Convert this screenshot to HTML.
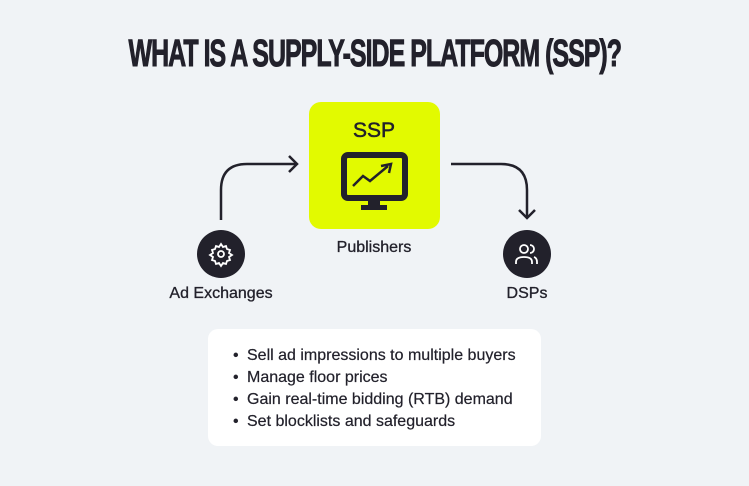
<!DOCTYPE html>
<html><head><style>
body{margin:0;width:749px;height:486px;background:#f0f3f6;font-family:"Liberation Sans",sans-serif;position:relative;overflow:hidden;color:#22212b}
.t{position:absolute;left:0;top:33px;width:749px;text-align:center}
.t span{display:inline-block;font-weight:bold;font-size:38px;letter-spacing:-1.5px;transform:scaleX(0.657);white-space:nowrap;-webkit-text-stroke:1px #22212b}
.box{position:absolute;left:309px;top:102px;width:131px;height:127px;background:#e2fa00;border-radius:12px}
.lbl{position:absolute;font-size:16px;text-align:center;width:200px;-webkit-text-stroke:0.3px #22212b}
.card{position:absolute;left:208px;top:329px;width:333px;height:117px;background:#fff;border-radius:10px}
ul{margin:0;padding:0;list-style:none;position:absolute;left:233px;top:345px;font-size:16px;line-height:22px;-webkit-text-stroke:0.2px #22212b}
li:before{content:"•";display:inline-block;width:14px}
</style></head><body>
<div class="t"><span>WHAT IS A SUPPLY-SIDE PLATFORM (SSP)?</span></div>
<div class="box"></div>
<svg width="749" height="486" style="position:absolute;left:0;top:0">
<text x="374" y="137" text-anchor="middle" font-size="21" fill="#22212b" stroke="#22212b" stroke-width="0.5" font-family="Liberation Sans">SSP</text>
<rect x="344" y="155" width="61" height="43" rx="4" fill="none" stroke="#22212b" stroke-width="6"/>
<rect x="368" y="198" width="12" height="8" fill="#22212b"/>
<rect x="361" y="205" width="26" height="5" fill="#22212b"/>
<polyline points="353,186 363,176 370,181 388,166" fill="none" stroke="#22212b" stroke-width="2.5"/>
<polyline points="381,166 391,164 389,173" fill="none" stroke="#22212b" stroke-width="2.5"/>
<path d="M221,220 V190 Q221,164 247,164 H297" fill="none" stroke="#22212b" stroke-width="2.5"/>
<polyline points="289,156 297,164 289,172" fill="none" stroke="#22212b" stroke-width="2.5"/>
<path d="M451,164 H501 Q527,164 527,190 V218" fill="none" stroke="#22212b" stroke-width="2.5"/>
<polyline points="519,210 527,218 535,210" fill="none" stroke="#22212b" stroke-width="2.5"/>
<circle cx="221" cy="254" r="24" fill="#22212b"/>
<circle cx="527" cy="254" r="24" fill="#22212b"/>
<g fill="none" stroke="#fff" stroke-width="1.8">
<circle cx="221" cy="254" r="3"/>
<path d="M221,244 l2,3 3,-1 1,3 3,1 -1,3 3,2 -3,2 1,3 -3,1 -1,3 -3,-1 -2,3 -2,-3 -3,1 -1,-3 -3,-1 1,-3 -3,-2 3,-2 -1,-3 3,-1 1,-3 3,1z"/>
<circle cx="524" cy="249" r="4"/>
<path d="M516,264 v-2 q0,-5 8,-5 q8,0 8,5 v2"/>
<path d="M530,245 a4,4 0 0 1 0,8 M534,257 q3,1 3,5 v2"/>
</g>
</svg>
<div class="lbl" style="left:274px;top:239px">Publishers</div>
<div class="lbl" style="left:121px;top:285px">Ad Exchanges</div>
<div class="lbl" style="left:427px;top:285px">DSPs</div>
<div class="card"></div>
<ul>
<li>Sell ad impressions to multiple buyers</li>
<li>Manage floor prices</li>
<li>Gain real-time bidding (RTB) demand</li>
<li>Set blocklists and safeguards</li>
</ul>
</body></html>
